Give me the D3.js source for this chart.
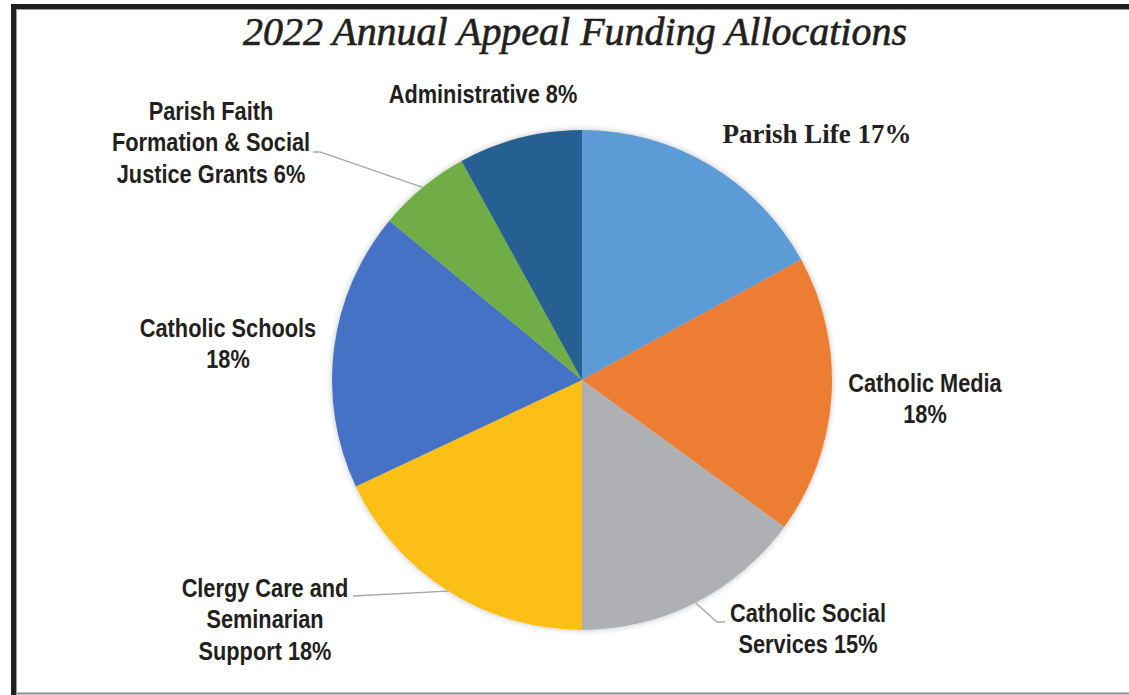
<!DOCTYPE html>
<html>
<head>
<meta charset="utf-8">
<title>2022 Annual Appeal Funding Allocations</title>
<script src="https://d3js.org/d3.v7.min.js"></script>
<style>
  html, body { margin: 0; padding: 0; background: #fff; }
  svg { display: block; }
  .lbl { font-family: "Liberation Sans", Arial, sans-serif; font-weight: bold; font-size: 25px; fill: #231f20; }
  .serif { font-family: "Liberation Serif", "DejaVu Serif", serif; fill: #231f20; }
</style>
</head>
<body>
<div id="chart"></div>
<script>
// data, clockwise from 12 o'clock
var categories = ["Parish Life", "Catholic Media", "Catholic Social Services", "Clergy Care and Seminarian Support",
                  "Catholic Schools", "Parish Faith Formation & Social Justice Grants", "Administrative"];
var shares = [17, 18, 15, 18, 18, 6, 8];
// label text as printed (line breaks)
var labelLines = [
  ["Parish Life 17%"],
  ["Catholic Media", "18%"],
  ["Catholic Social", "Services 15%"],
  ["Clergy Care and", "Seminarian", "Support 18%"],
  ["Catholic Schools", "18%"],
  ["Parish Faith", "Formation & Social", "Justice Grants 6%"],
  ["Administrative 8%"]
];
var colors = ["#5b9bd5", "#ed7d31", "#afb0b3", "#fbbf14", "#4472c4", "#70ad47", "#255e91"];

var width = 1129, height = 695;
var cx = 582, cy = 380, radius = 250;
var narrow = 0.87; // the printed labels use a condensed face

// label placement (centre x, first-line middle y) and leader elbows
var labelLayout = [
  {x: 817, y: 134, serif: true},
  {x: 925, y: 383},
  {x: 808, y: 613, leader: [[717, 622], [725, 622]]},
  {x: 265, y: 588, leader: [[353, 596]]},
  {x: 228, y: 328},
  {x: 211, y: 111, leader: [[320, 152], [313, 152]]},
  {x: 483, y: 94}
];

var svg = d3.select("#chart").append("svg")
  .attr("width", width).attr("height", height);

// frame
svg.append("rect").attr("x", 0).attr("y", 0).attr("width", width).attr("height", height).attr("fill", "#fff");
svg.append("line").attr("x1", 16).attr("x2", width).attr("y1", 693.5).attr("y2", 693.5)
  .attr("stroke", "#8c8c8c").attr("stroke-width", 2);
svg.append("line").attr("x1", 16).attr("x2", width).attr("y1", 9.5).attr("y2", 9.5)
  .attr("stroke", "#9a9a9a").attr("stroke-width", 1);
svg.append("line").attr("x1", 16.5).attr("x2", 16.5).attr("y1", 9).attr("y2", 695)
  .attr("stroke", "#9a9a9a").attr("stroke-width", 1);
svg.append("rect").attr("x", 11).attr("y", 4).attr("width", width - 11).attr("height", 5).attr("fill", "#231f20");
svg.append("rect").attr("x", 11).attr("y", 4).attr("width", 5).attr("height", height - 4).attr("fill", "#231f20");

// title
var title = svg.append("text")
  .attr("class", "serif")
  .attr("x", 575).attr("y", 45)
  .attr("text-anchor", "middle")
  .style("font-style", "italic")
  .style("font-size", "39px")
  .style("stroke", "#231f20")
  .style("stroke-width", "0.6px")
  .text("2022 Annual Appeal Funding Allocations");
title.attr("textLength", 664).attr("lengthAdjust", "spacingAndGlyphs");

// soft shadow like the original
var defs = svg.append("defs");
var f = defs.append("filter").attr("id", "shadow").attr("x", "-10%").attr("y", "-10%").attr("width", "120%").attr("height", "120%");
f.append("feGaussianBlur").attr("in", "SourceAlpha").attr("stdDeviation", 3).attr("result", "b");
f.append("feComponentTransfer").attr("in", "b").attr("result", "s")
  .append("feFuncA").attr("type", "linear").attr("slope", 0.25);
var fm = f.append("feMerge");
fm.append("feMergeNode").attr("in", "s");
fm.append("feMergeNode").attr("in", "SourceGraphic");

var pie = d3.pie().sort(null).value(function(d){ return d; });
var arcs = pie(shares);
var arc = d3.arc().innerRadius(0).outerRadius(radius);

var g = svg.append("g").attr("transform", "translate(" + cx + "," + cy + ")");
var pieG = g.append("g").attr("filter", "url(#shadow)");
pieG.selectAll("path")
  .data(arcs)
  .join("path")
  .attr("d", arc)
  .attr("fill", function(d, i){ return colors[i]; });

// leader lines
arcs.forEach(function(a, i) {
  var lay = labelLayout[i];
  if (!lay.leader) return;
  var mid = (a.startAngle + a.endAngle) / 2;
  var pts = [[cx + radius * Math.sin(mid), cy - radius * Math.cos(mid)]].concat(lay.leader);
  svg.append("path")
    .attr("d", d3.line()(pts))
    .attr("fill", "none")
    .attr("stroke", "#a6a6a6")
    .attr("stroke-width", 1.3);
});

// labels
labelLines.forEach(function(lines, i) {
  var lay = labelLayout[i];
  var lg = svg.append("g")
    .attr("transform", "translate(" + lay.x + "," + lay.y + ")" + (lay.serif ? "" : " scale(" + narrow + ",1)"));
  var t = lg.append("text")
    .attr("class", lay.serif ? "serif" : "lbl")
    .attr("text-anchor", "middle");
  if (lay.serif) t.style("font-weight", "bold").style("font-size", "27px");
  lines.forEach(function(s, k) {
    t.append("tspan")
      .attr("x", 0)
      .attr("y", k * 31.5)
      .attr("dy", "0.35em")
      .text(s);
  });
});
</script>
</body>
</html>
